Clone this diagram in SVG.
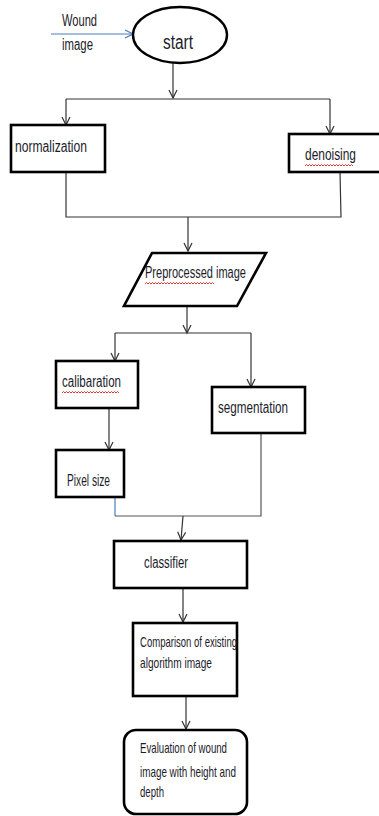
<svg xmlns="http://www.w3.org/2000/svg" width="379" height="816" viewBox="0 0 379 816">
<style>
.box{fill:#fff;stroke:#000;stroke-width:2.6}
.ln{fill:none;stroke:#333;stroke-width:1.2}
.t{font-family:"Liberation Sans",Arial,sans-serif;fill:#1c1c2a;font-size:16px}
.s{font-size:15px}
.sq{fill:none;stroke:#e02020;stroke-width:0.9}
</style>
<defs>
<marker id="a" viewBox="0 0 10 10" refX="9" refY="5" markerWidth="10" markerHeight="10" markerUnits="userSpaceOnUse" orient="auto">
<path d="M1,1 L9,5 L1,9" fill="none" stroke="#333" stroke-width="1.2"/>
</marker>
<marker id="ab" viewBox="0 0 10 10" refX="9" refY="5" markerWidth="10" markerHeight="10" markerUnits="userSpaceOnUse" orient="auto">
<path d="M1,1 L9,5 L1,9" fill="none" stroke="#4a7ebb" stroke-width="1.2"/>
</marker>
</defs>
<g id="connectors">
<path d="M51,34 H133" fill="none" stroke="#4a7ebb" stroke-width="1.2" marker-end="url(#ab)"/>
<path class="ln" d="M173,63 V98" marker-end="url(#a)"/>
<path class="ln" d="M66,99 H330"/>
<path class="ln" d="M66,99 V125" marker-end="url(#a)"/>
<path class="ln" d="M330,99 V134" marker-end="url(#a)"/>
<path class="ln" d="M66,172 V217 H341 L340,172"/>
<path class="ln" d="M188,217 V251" marker-end="url(#a)"/>
<path class="ln" d="M187,307 V333" marker-end="url(#a)"/>
<path class="ln" d="M115,333 H251"/>
<path class="ln" d="M115,333 V361" marker-end="url(#a)"/>
<path class="ln" d="M251,333 V387" marker-end="url(#a)"/>
<path class="ln" d="M109,408 V450" marker-end="url(#a)"/>
<path d="M115,497 V516" fill="none" stroke="#4a7ebb" stroke-width="1.2"/>
<path d="M115,516 H261 V433" fill="none" stroke="#555" stroke-width="1.2"/>
<path class="ln" d="M183,516 L181,540" marker-end="url(#a)"/>
<path class="ln" d="M183,588 V622" marker-end="url(#a)"/>
<path class="ln" d="M186,696 V729" marker-end="url(#a)"/>
</g>
<g id="wound-image">
<text class="t" x="62" y="26" textLength="35" lengthAdjust="spacingAndGlyphs">Wound</text>
<text class="t" x="62" y="50" textLength="31" lengthAdjust="spacingAndGlyphs">image</text>
</g>
<g id="start">
<ellipse cx="180" cy="35" rx="47" ry="28" fill="#fff" stroke="#000" stroke-width="2.4"/>
<text class="t" x="163" y="49" style="font-size:20px" textLength="30" lengthAdjust="spacingAndGlyphs">start</text>
</g>
<g id="normalization">
<rect class="box" x="11" y="125" width="94" height="47"/>
<text class="t" x="15" y="152" textLength="72" lengthAdjust="spacingAndGlyphs">normalization</text>
</g>
<g id="denoising">
<rect class="box" x="289" y="134" width="95" height="38"/>
<text class="t" x="305" y="160" textLength="51" lengthAdjust="spacingAndGlyphs">denoising</text>
<path class="sq" d="M305,166 l1.5,-1.5 l1.5,1.5 l1.5,-1.5 l1.5,1.5 l1.5,-1.5 l1.5,1.5 l1.5,-1.5 l1.5,1.5 l1.5,-1.5 l1.5,1.5 l1.5,-1.5 l1.5,1.5 l1.5,-1.5 l1.5,1.5 l1.5,-1.5 l1.5,1.5 l1.5,-1.5 l1.5,1.5 l1.5,-1.5 l1.5,1.5 l1.5,-1.5 l1.5,1.5 l1.5,-1.5 l1.5,1.5 l1.5,-1.5 l1.5,1.5 l1.5,-1.5 l1.5,1.5 l1.5,-1.5 l1.5,1.5 l1.5,-1.5 l1.5,1.5"/>
</g>
<g id="preprocessed">
<polygon points="152,253 266,253 237,306 124,306" fill="#fff" stroke="#000" stroke-width="2.6"/>
<text class="t" x="145" y="278" textLength="101" lengthAdjust="spacingAndGlyphs">Preprocessed image</text>
<path class="sq" d="M145,284 l1.5,-1.5 l1.5,1.5 l1.5,-1.5 l1.5,1.5 l1.5,-1.5 l1.5,1.5 l1.5,-1.5 l1.5,1.5 l1.5,-1.5 l1.5,1.5 l1.5,-1.5 l1.5,1.5 l1.5,-1.5 l1.5,1.5 l1.5,-1.5 l1.5,1.5 l1.5,-1.5 l1.5,1.5 l1.5,-1.5 l1.5,1.5 l1.5,-1.5 l1.5,1.5 l1.5,-1.5 l1.5,1.5 l1.5,-1.5 l1.5,1.5 l1.5,-1.5 l1.5,1.5 l1.5,-1.5 l1.5,1.5 l1.5,-1.5 l1.5,1.5 l1.5,-1.5 l1.5,1.5 l1.5,-1.5 l1.5,1.5 l1.5,-1.5 l1.5,1.5 l1.5,-1.5 l1.5,1.5 l1.5,-1.5 l1.5,1.5 l1.5,-1.5 l1.5,1.5 l1.5,-1.5 l1.5,1.5"/>
</g>
<g id="calibaration">
<rect class="box" x="56" y="361" width="82" height="47"/>
<text class="t" x="62" y="387" textLength="59" lengthAdjust="spacingAndGlyphs">calibaration</text>
<path class="sq" d="M62,393 l1.5,-1.5 l1.5,1.5 l1.5,-1.5 l1.5,1.5 l1.5,-1.5 l1.5,1.5 l1.5,-1.5 l1.5,1.5 l1.5,-1.5 l1.5,1.5 l1.5,-1.5 l1.5,1.5 l1.5,-1.5 l1.5,1.5 l1.5,-1.5 l1.5,1.5 l1.5,-1.5 l1.5,1.5 l1.5,-1.5 l1.5,1.5 l1.5,-1.5 l1.5,1.5 l1.5,-1.5 l1.5,1.5 l1.5,-1.5 l1.5,1.5 l1.5,-1.5 l1.5,1.5 l1.5,-1.5 l1.5,1.5 l1.5,-1.5 l1.5,1.5 l1.5,-1.5 l1.5,1.5 l1.5,-1.5 l1.5,1.5 l1.5,-1.5 l1.5,1.5"/>
</g>
<g id="segmentation">
<rect class="box" x="212" y="387" width="93" height="46"/>
<text class="t" x="218" y="413" textLength="70" lengthAdjust="spacingAndGlyphs">segmentation</text>
</g>
<g id="pixel-size">
<rect class="box" x="56" y="450" width="68" height="47"/>
<text class="t" x="67" y="486" textLength="43" lengthAdjust="spacingAndGlyphs">Pixel size</text>
</g>
<g id="classifier">
<rect class="box" x="114" y="541" width="133" height="47"/>
<text class="t" x="144" y="568" textLength="44" lengthAdjust="spacingAndGlyphs">classifier</text>
</g>
<g id="comparison">
<rect class="box" x="133" y="623" width="104" height="73"/>
<text class="t s" x="140" y="647" textLength="97" lengthAdjust="spacingAndGlyphs">Comparison of existing</text>
<text class="t s" x="140" y="668" textLength="72" lengthAdjust="spacingAndGlyphs">algorithm image</text>
</g>
<g id="evaluation">
<rect class="box" x="124" y="730" width="123" height="84" rx="12"/>
<text class="t s" x="140" y="753" textLength="87" lengthAdjust="spacingAndGlyphs">Evaluation of wound</text>
<text class="t s" x="140" y="777" textLength="96" lengthAdjust="spacingAndGlyphs">image with height and</text>
<text class="t s" x="140" y="797" textLength="24" lengthAdjust="spacingAndGlyphs">depth</text>
</g>
</svg>
